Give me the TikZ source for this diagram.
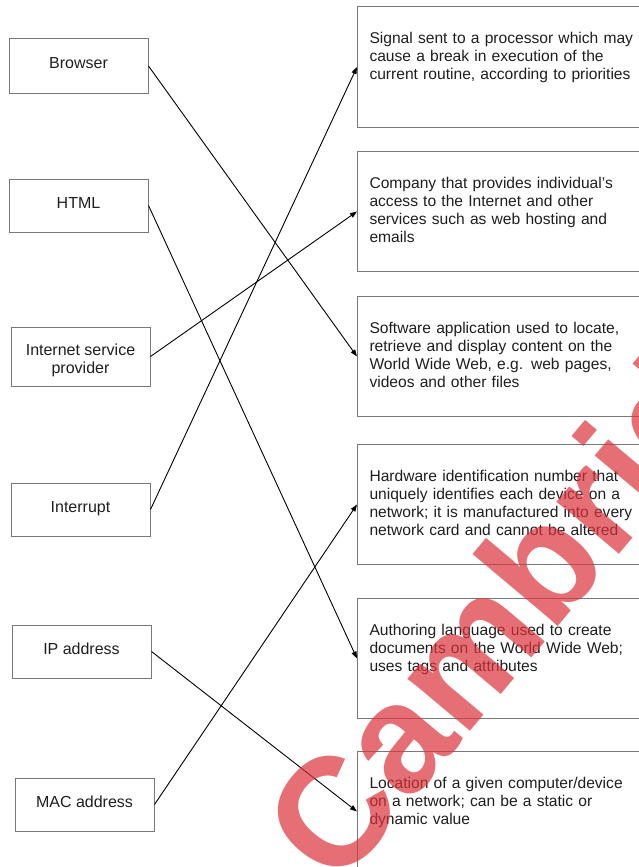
\documentclass[tikz,border=0pt]{standalone}
\usepackage{fontspec}
\setmainfont{Liberation Sans}
\usetikzlibrary{arrows.meta}
\definecolor{boxgray}{RGB}{120,120,120}
\definecolor{txt}{RGB}{30,30,30}
\definecolor{wm}{RGB}{220,50,60}
\begin{document}
\begin{tikzpicture}[x=1pt,y=-1pt,
  lbox/.style={draw=boxgray,line width=1pt,minimum width=139pt,minimum height=53pt,inner sep=0pt,text=txt,font=\fontsize{16}{18}\selectfont,text height=11.5pt,text depth=5.5pt},
  rbox/.style={draw=boxgray,line width=1pt,anchor=north west,inner xsep=12pt,inner ysep=0pt,text width=272pt,align=left,text=txt,font=\fontsize{15.6}{18}\selectfont,text height=37pt,text depth=83pt},
  link/.style={line width=0.9pt,-{Triangle[length=7pt,width=5pt]}},
  wmark/.style={anchor=base west,rotate=50,text=wm,text opacity=0.7,font=\bfseries\fontsize{154}{154}\selectfont}]
\useasboundingbox (0,0) rectangle (639,867);
% left column
\node[lbox,minimum height=54pt] (browser) at (78.5,66) {Browser};
\node[lbox] (html) at (78.5,205.5) {HTML};
\node[draw=boxgray,line width=1pt,minimum width=139pt,minimum height=59pt,inner sep=0pt,text=txt,font=\fontsize{16}{18}\selectfont] (isp) at (80.5,356.5) {\raisebox{0pt}[11.5pt][13.5pt]{\begin{tabular}[t]{@{}c@{}}Internet service\\provider\end{tabular}}};
\node[lbox] (interrupt) at (80.5,509.5) {Interrupt};
\node[lbox] (ip) at (81.5,651.5) {IP address};
\node[lbox] (mac) at (84.5,804.5) {MAC address};
% right column
\node[rbox,text depth=84pt] (r1) at (357,6) {Signal sent to a processor which may\\cause a break in execution of the\\current routine, according to priorities};
\node[rbox] (r2) at (357,151) {Company that provides individual’s\\access to the Internet and other\\services such as web hosting and\\emails};
\node[rbox] (r3) at (357,296) {Software application used to locate,\\retrieve and display content on the\\World Wide Web, e.g. web pages,\\videos and other files};
\node[rbox] (r4) at (357,444) {Hardware identification number that\\uniquely identifies each device on a\\network; it is manufactured into every\\network card and cannot be altered};
\node[rbox] (r5) at (357,598) {Authoring language used to create\\documents on the World Wide Web;\\uses tags and attributes};
\node[rbox] (r6) at (357,751) {Location of a given computer/device\\on a network; can be a static or\\dynamic value};
% connectors
\draw[link] (browser.east) -- (r3.west);
\draw[link] (html.east) -- (r5.west);
\draw[link] (isp.east) -- (r2.west);
\draw[link] (interrupt.east) -- (r1.west);
\draw[link] (ip.east) -- (r6.west);
\draw[link] (mac.east) -- (r4.west);
% watermark
\node[wmark] (wmtext) at (335,893) {Cambridge};
\end{tikzpicture}
\end{document}
